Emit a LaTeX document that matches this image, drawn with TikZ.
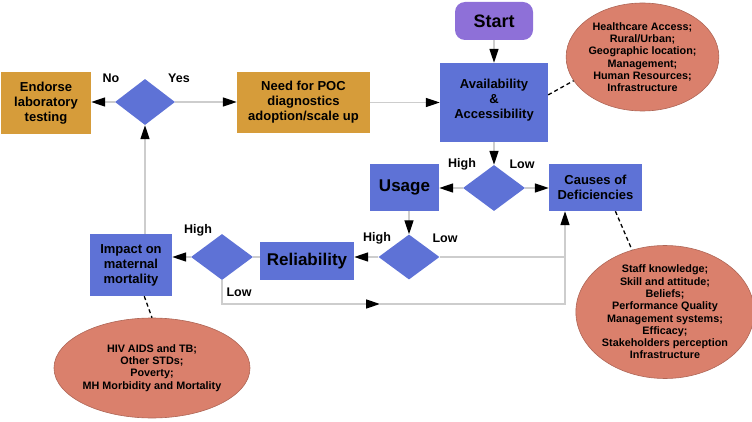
\documentclass[tikz,border=0pt]{standalone}
\usepackage{fontspec}
\setmainfont{Liberation Sans}
\usetikzlibrary{arrows.meta,shapes.geometric}

\definecolor{boxblue}{RGB}{94,114,214}
\definecolor{boxgold}{RGB}{214,156,58}
\definecolor{ellsalmon}{RGB}{218,128,108}
\definecolor{startpurple}{RGB}{142,112,216}
\definecolor{linegray}{RGB}{205,205,205}

\begin{document}
\begin{tikzpicture}[x=1pt,y=-1pt, every node/.style={font=\bfseries, text=black}]
			\tikzstyle{myedgestyle} = [draw=linegray, line width=1.4pt, -{Triangle[length=14pt,width=9pt,color=black]}]
			\tikzstyle{mylinestyle} = [draw=linegray, line width=1.4pt]
			\tikzstyle{mydashstyle} = [draw=black, line width=1.3pt, dash pattern=on 4pt off 3pt]
			\tikzstyle{myboxstyle} = [rectangle, fill=boxblue, align=center, inner sep=0pt, font=\bfseries\fontsize{13}{15}\selectfont]
			\tikzstyle{mygoldstyle} = [myboxstyle, fill=boxgold]
			\tikzstyle{mydecstyle} = [diamond, fill=boxblue, inner sep=0pt, minimum width=62pt, minimum height=46pt]
			\tikzstyle{myellstyle} = [ellipse, fill=ellsalmon, draw=ellsalmon!80!black, line width=0.6pt, align=center, inner sep=0pt, font=\bfseries\fontsize{10.8}{12.3}\selectfont]
			\tikzstyle{mylabelstyle} = [font=\bfseries\fontsize{12.5}{14}\selectfont]
			
			\useasboundingbox (0,0) rectangle (752,422);
			
			% top row
			\node [rectangle, rounded corners=10pt, fill=startpurple, minimum width=78pt, minimum height=38pt, font=\bfseries\fontsize{18}{20}\selectfont] (start) at (494,21) {Start};
			\node [myboxstyle, minimum width=108pt, minimum height=79pt] (avail) at (494,102.5) {Availability\\\&\\Accessibility\\[-7pt]};
			\node [mygoldstyle, minimum width=133pt, minimum height=61pt] (poc) at (303.5,102.5) {Need for POC\\diagnostics\\adoption/scale up};
			\node [mydecstyle, minimum width=60pt] (decA) at (145,102) {};
			\node [mygoldstyle, minimum width=90pt, minimum height=62pt] (endorse) at (46,103) {Endorse\\laboratory\\testing};
			\node [myellstyle, minimum width=139pt, minimum height=108pt] (ellA) at (642.5,57) {Healthcare Access;\\Rural/Urban;\\Geographic location;\\Management;\\Human Resources;\\Infrastructure};
			
			\node [mylabelstyle] (no) at (111,78) {No};
			\node [mylabelstyle] (yes) at (179,78) {Yes};
			
			% middle
			\node [mydecstyle] (decB) at (494,188) {};
			\node [myboxstyle, minimum width=69pt, minimum height=47pt, font=\bfseries\fontsize{17}{19}\selectfont] (usage) at (404.5,187.5) {Usage};
			\node [myboxstyle, minimum width=93pt, minimum height=47pt] (causes) at (595.5,187.5) {Causes of\\Deficiencies};
			\node [mylabelstyle] (highB) at (462,164) {High};
			\node [mylabelstyle] (lowB) at (522,164) {Low};
			
			\node [mydecstyle, minimum width=61pt, minimum height=45pt] (decC) at (409,257) {};
			\node [mylabelstyle] (highC) at (377,238) {High};
			\node [mylabelstyle] (lowC) at (445,238) {Low};
			\node [myboxstyle, minimum width=94pt, minimum height=38pt, font=\bfseries\fontsize{17}{19}\selectfont] (rel) at (307,261) {Reliability};
			
			\node [mydecstyle] (decD) at (222,257) {};
			\node [mylabelstyle] (highD) at (198,230) {High};
			\node [mylabelstyle] (lowD) at (239,292) {Low};
			\node [myboxstyle, minimum width=82pt, minimum height=62pt] (impact) at (131,265) {Impact on\\maternal\\mortality};
			
			% ellipses at the bottom
			\node [myellstyle, minimum width=170pt, minimum height=123pt] (ellB) at (665,312) {Staff knowledge;\\Skill and attitude;\\Beliefs;\\Performance Quality\\Management systems;\\Efficacy;\\Stakeholders perception\\Infrastructure};
			\node [myellstyle, minimum width=170pt, minimum height=100pt] (ellC) at (152,368) {HIV AIDS and TB;\\Other STDs;\\Poverty;\\MH Morbidity and Mortality};
			
			\coordinate (junc) at (565,257);
			\coordinate (lowtip) at (380,304);
			
			\draw [myedgestyle] (start) -- (avail);
			\draw [myedgestyle] (poc.east |- avail.west) -- (avail.west);
			\draw [myedgestyle] (decA.east) -- (decA.east -| poc.west);
			\draw [myedgestyle] (decA.west) -- (decA.west -| endorse.east);
			\draw [myedgestyle] (avail.south) -- (decB.north);
			\draw [myedgestyle] (decB.west) -- (decB.west -| usage.east);
			\draw [myedgestyle] (decB.east) -- (decB.east -| causes.west);
			\draw [myedgestyle] (usage.south -| decC.north) -- (decC.north);
			\draw [myedgestyle] (decC.west) -- (decC.west -| rel.east);
			\draw [mylinestyle] (decC.east) -- (junc);
			\draw [myedgestyle] (junc) -- (junc |- causes.south);
			\draw [mylinestyle] (rel.west |- decD.east) -- (decD.east);
			\draw [myedgestyle] (decD.west) -- (decD.west -| impact.east);
			\draw [myedgestyle] (decD.south) |- (lowtip);
			\draw [mylinestyle] (lowtip) -| (junc);
			\draw [myedgestyle] (impact.north -| decA.south) -- (decA.south);
			
			\draw [mydashstyle] (avail.8) -- (ellA.199);
			\draw [mydashstyle] (causes.-50) -- (ellB.118);
			\draw [mydashstyle] (impact.-67) -- (ellC.north);
			
			\end{tikzpicture}
\end{document}
